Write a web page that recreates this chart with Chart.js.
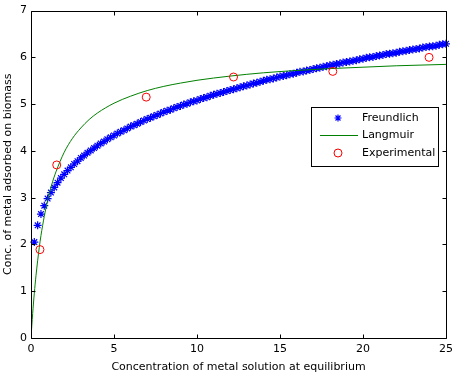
<!DOCTYPE html>
<html><head><meta charset="utf-8">
<script src="https://cdn.jsdelivr.net/npm/chart.js@4/dist/chart.umd.min.js"></script>
<style>html,body{margin:0;padding:0;background:#fff;overflow:hidden}</style>
</head><body>
<canvas id="c" width="458" height="374"></canvas>
<script>
const xTicks = [0, 5, 10, 15, 20, 25];
const yTicks = [0, 1, 2, 3, 4, 5, 6, 7];
const seriesNames = ['Freundlich', 'Langmuir', 'Experimental'];
const xTitle = 'Concentration of metal solution at equilibrium';
const yTitle = 'Conc. of metal adsorbed on biomass';

const freundlichX = [0.2,0.4,0.6,0.8,1.0,1.2,1.4,1.6,1.8,2.0,2.2,2.4,2.6,2.8,3.0,3.2,3.4,3.6,3.8,4.0,4.2,4.4,4.6,4.8,5.0,
5.2,5.4,5.6,5.8,6.0,6.2,6.4,6.6,6.8,7.0,7.2,7.4,7.6,7.8,8.0,8.2,8.4,8.6,8.8,9.0,9.2,9.4,9.6,9.8,10.0,
10.2,10.4,10.6,10.8,11.0,11.2,11.4,11.6,11.8,12.0,12.2,12.4,12.6,12.8,13.0,13.2,13.4,13.6,13.8,14.0,14.2,14.4,14.6,14.8,15.0,
15.2,15.4,15.6,15.8,16.0,16.2,16.4,16.6,16.8,17.0,17.2,17.4,17.6,17.8,18.0,18.2,18.4,18.6,18.8,19.0,19.2,19.4,19.6,19.8,20.0,
20.2,20.4,20.6,20.8,21.0,21.2,21.4,21.6,21.8,22.0,22.2,22.4,22.6,22.8,23.0,23.2,23.4,23.6,23.8,24.0,24.2,24.4,24.6,24.8,25.0];
const freundlichY = [2.05,2.41,2.65,2.83,2.98,3.11,3.22,3.32,3.42,3.50,
3.58,3.65,3.72,3.78,3.85,3.90,3.96,4.01,4.06,4.11,
4.16,4.20,4.25,4.29,4.33,4.37,4.41,4.44,4.48,4.52,
4.55,4.58,4.62,4.65,4.68,4.71,4.74,4.77,4.80,4.83,
4.86,4.88,4.91,4.94,4.96,4.99,5.01,5.04,5.06,5.08,
5.11,5.13,5.15,5.18,5.20,5.22,5.24,5.26,5.28,5.30,
5.32,5.34,5.36,5.38,5.40,5.42,5.44,5.46,5.48,5.50,
5.52,5.53,5.55,5.57,5.59,5.60,5.62,5.64,5.65,5.67,
5.69,5.70,5.72,5.73,5.75,5.77,5.78,5.80,5.81,5.83,
5.84,5.86,5.87,5.89,5.90,5.91,5.93,5.94,5.96,5.97,
5.99,6.00,6.01,6.03,6.04,6.05,6.07,6.08,6.09,6.10,
6.12,6.13,6.14,6.16,6.17,6.18,6.19,6.21,6.22,6.23,
6.24,6.25,6.27,6.28,6.29];

const langmuirX = [0,0.05,0.1,0.2,0.3,0.4,0.5,0.6,0.8,1,1.25,1.5,2,2.5,3,3.5,4,5,6,7,8,9,10,12,14,16,18,20,22,25];
const langmuirY = [0,0.27,0.52,0.96,1.33,1.65,1.94,2.19,2.60,2.94,3.28,3.55,3.97,4.27,4.49,4.67,4.81,5.02,5.17,5.29,5.38,5.45,5.51,5.60,5.67,5.72,5.76,5.79,5.82,5.85];

const experimentalX = [0.54, 1.55, 6.94, 12.2, 18.18, 23.98];
const experimentalY = [1.89, 3.70, 5.15, 5.58, 5.70, 6.00];

const FONT = 'DejaVu Sans';
const pts = (xs, ys) => xs.map((x, i) => ({x: x, y: ys[i]}));

const framePlugin = {
  id: 'frameTicksLegend',
  afterDatasetsDraw(chart) {
    const ctx = chart.ctx, a = chart.chartArea;
    const sx = chart.scales.x, sy = chart.scales.y;
    const L = Math.round(a.left) + 0.5, R = Math.round(a.right) + 0.5;
    const T = Math.round(a.top) + 0.5, B = Math.round(a.bottom) + 0.5;
    ctx.save();
    ctx.strokeStyle = '#000';
    ctx.lineWidth = 1;
    ctx.beginPath();
    ctx.rect(L, T, R - L, B - T);
    const tl = 4;
    xTicks.forEach(v => {
      const px = Math.round(sx.getPixelForValue(v)) + 0.5;
      ctx.moveTo(px, B); ctx.lineTo(px, B - tl);
      ctx.moveTo(px, T); ctx.lineTo(px, T + tl);
    });
    yTicks.forEach(v => {
      const py = Math.round(sy.getPixelForValue(v)) + 0.5;
      ctx.moveTo(L, py); ctx.lineTo(L + tl, py);
      ctx.moveTo(R, py); ctx.lineTo(R - tl, py);
    });
    ctx.stroke();

    // legend
    const bx = 311.5, by = 107.5, bw = 127, bh = 59;
    ctx.fillStyle = '#fff';
    ctx.fillRect(bx, by, bw, bh);
    ctx.strokeRect(bx, by, bw, bh);
    const rows = [118, 135, 153];
    const symX = 338, textX = 362;
    ctx.font = '11px "' + FONT + '"';
    ctx.fillStyle = '#000';
    ctx.textBaseline = 'middle';
    ctx.textAlign = 'left';
    chart.data.datasets.forEach((ds, i) => {
      const y = rows[i];
      if (i === 0) {
        ctx.strokeStyle = ds.borderColor;
        ctx.lineWidth = 1.2;
        Chart.helpers.drawPoint(ctx, {pointStyle: 'star', radius: 3.5, borderWidth: 1.2}, symX, y);
        ctx.lineWidth = 1;
      } else if (i === 1) {
        ctx.strokeStyle = ds.borderColor;
        ctx.beginPath(); ctx.moveTo(320, y + 0.5); ctx.lineTo(358, y + 0.5); ctx.stroke();
      } else {
        ctx.strokeStyle = ds.pointBorderColor;
        ctx.beginPath(); ctx.arc(symX, y, 4, 0, Math.PI * 2); ctx.stroke();
      }
      ctx.fillStyle = '#000';
      ctx.fillText(ds.label, textX, y);
    });
    ctx.restore();
  }
};

new Chart(document.getElementById('c'), {
  type: 'scatter',
  data: {
    datasets: [
      {label: seriesNames[0], data: pts(freundlichX, freundlichY), showLine: false,
       pointStyle: 'star', pointRadius: 4, borderColor: '#0000ff', backgroundColor: '#0000ff',
       pointBorderWidth: 1.2, clip: false, order: 3},
      {label: seriesNames[1], data: pts(langmuirX, langmuirY), showLine: true,
       borderColor: '#008000', borderWidth: 1, pointRadius: 0, cubicInterpolationMode: 'monotone',
       fill: false, order: 2},
      {label: seriesNames[2], data: pts(experimentalX, experimentalY), showLine: false,
       pointStyle: 'circle', pointRadius: 4, pointBorderColor: '#ff0000', borderColor: '#ff0000',
       pointBackgroundColor: 'rgba(0,0,0,0)', backgroundColor: 'rgba(0,0,0,0)', pointBorderWidth: 1, clip: false, order: 1}
    ]
  },
  options: {
    responsive: false, animation: false, devicePixelRatio: 1,
    layout: {padding: {top: 9, right: 9, left: 0, bottom: 0}},
    plugins: {legend: {display: false}, tooltip: {enabled: false}},
    scales: {
      x: {
        type: 'linear', min: 0, max: 25,
        afterBuildTicks: s => { s.ticks = xTicks.map(v => ({value: v})); },
        afterFit: s => { s.height = 36; },
        grid: {display: false, drawTicks: false}, border: {display: false},
        ticks: {padding: 5, autoSkip: false, maxRotation: 0, color: '#000', font: {family: FONT, size: 11}},
        title: {display: true, text: xTitle, color: '#000', font: {family: FONT, size: 11}, padding: {top: 0, bottom: 0}}
      },
      y: {
        type: 'linear', min: 0, max: 7,
        afterBuildTicks: s => { s.ticks = yTicks.map(v => ({value: v})); },
        afterFit: s => { s.width = 31; },
        grid: {display: false, drawTicks: false}, border: {display: false},
        ticks: {padding: 4, autoSkip: false, color: '#000', font: {family: FONT, size: 11}},
        title: {display: true, text: yTitle, color: '#000', font: {family: FONT, size: 11}, padding: {top: 2, bottom: 0}}
      }
    }
  },
  plugins: [framePlugin]
});
</script>
</body></html>
